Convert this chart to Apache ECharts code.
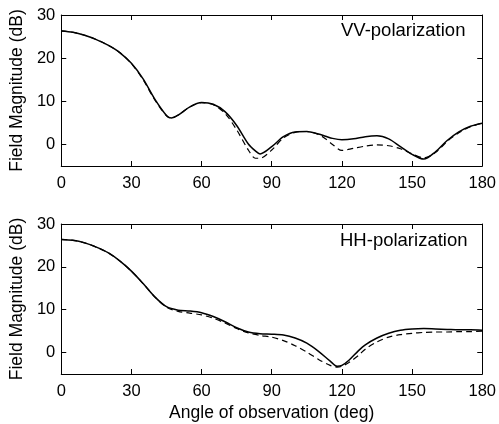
<!DOCTYPE html>
<html>
<head>
<meta charset="utf-8">
<script src="https://cdn.jsdelivr.net/npm/echarts@6/dist/echarts.min.js"></script>
<style>
  html, body { margin: 0; padding: 0; background: #fff; }
  #main { width: 499px; height: 424px; }
</style>
</head>
<body>
<div id="main"></div>
<script>
// VV panel (top)
var vvAngle = [0, 5, 10, 15, 20, 25, 30, 35, 40, 45, 47, 50, 55, 60, 65, 70, 75, 80, 83, 85,
    90, 95, 100, 105, 110, 113, 116, 120, 125, 130, 135, 140, 145, 150, 155, 160, 165, 170, 175, 180];
var vvSolid = [26.3, 26.0, 25.3, 24.3, 23.0, 21.3, 18.8, 15.2, 10.5, 6.7, 6.1, 6.8, 8.7, 9.7, 9.3, 7.6, 4.4, 0.1, -1.5, -2.2,
    -0.5, 1.8, 2.9, 3.0, 2.4, 1.9, 1.4, 1.1, 1.3, 1.8, 2.0, 1.3, -0.5, -2.3, -3.4, -1.7, 0.9, 2.9, 4.2, 4.9];
var vvDashed = [26.3, 26.0, 25.3, 24.3, 23.0, 21.3, 18.7, 15.0, 10.3, 6.6, 6.1, 6.8, 8.7, 9.7, 9.2, 7.2, 3.4, -1.3, -3.2, -3.2,
    -1.3, 1.5, 2.8, 3.0, 2.3, 1.3, 0.0, -1.4, -0.9, -0.4, -0.1, -0.3, -1.0, -2.2, -3.1, -1.9, 0.7, 2.7, 4.1, 4.9];

// HH panel (bottom)
var hhAngle = [0, 5, 10, 15, 20, 25, 30, 35, 40, 45, 50, 55, 60, 65, 70, 75, 80, 85, 90, 95,
    100, 105, 110, 115, 118, 120, 123, 127, 130, 135, 140, 145, 150, 155, 160, 165, 170, 175, 180];
var hhSolid = [26.4, 26.2, 25.6, 24.6, 23.3, 21.4, 19.0, 16.1, 13.0, 10.7, 9.9, 9.7, 9.3, 8.4, 7.2, 5.8, 4.8, 4.4, 4.3, 4.1,
    3.4, 2.2, 0.3, -2.0, -3.2, -3.0, -1.8, 0.4, 1.8, 3.4, 4.5, 5.2, 5.5, 5.6, 5.5, 5.4, 5.3, 5.3, 5.2];
var hhDashed = [26.4, 26.2, 25.6, 24.6, 23.3, 21.4, 19.0, 16.1, 13.0, 10.6, 9.6, 9.2, 8.8, 8.0, 6.9, 5.6, 4.6, 4.0, 3.6, 2.8,
    1.6, 0.1, -1.6, -3.0, -3.4, -3.2, -2.3, -0.7, 0.8, 2.5, 3.6, 4.2, 4.5, 4.7, 4.8, 4.8, 4.9, 4.9, 5.0];

var xTicks = [0, 30, 60, 90, 120, 150, 180];
var yTicks = [0, 10, 20, 30];
var panelNames = ['VV-polarization', 'HH-polarization'];

var FONT = 'Liberation Sans, Arial, Helvetica, sans-serif';

var pairs = function (xs, ys) {
    var out = [];
    for (var i = 0; i < xs.length; i++) {
        out.push([xs[i], ys[i]]);
    }
    return out;
};

var makeX = function (gridIndex, pos, withLabels, withName) {
    return {
        type: 'value',
        gridIndex: gridIndex,
        position: pos,
        min: 0,
        max: 180,
        interval: 30,
        name: withName ? 'Angle of observation (deg)' : '',
        nameLocation: 'middle',
        nameGap: 30,
        nameTextStyle: {color: '#000', fontSize: 17.5, fontFamily: FONT},
        axisLine: {show: true, onZero: false, lineStyle: {color: '#000', width: 1}},
        axisTick: {show: true, inside: true, length: 5, customValues: xTicks, lineStyle: {color: '#000'}},
        axisLabel: {show: withLabels, customValues: xTicks, color: '#000', fontSize: 16.5, fontFamily: FONT, margin: 9},
        splitLine: {show: false}
    };
};

var makeY = function (gridIndex, pos, withLabels) {
    return {
        type: 'value',
        gridIndex: gridIndex,
        position: pos,
        min: -5,
        max: 30,
        interval: 5,
        name: withLabels ? 'Field Magnitude (dB)' : '',
        nameLocation: 'middle',
        nameGap: 31,
        nameTextStyle: {color: '#000', fontSize: 17.5, fontFamily: FONT},
        axisLine: {show: true, onZero: false, lineStyle: {color: '#000', width: 1}},
        axisTick: {show: true, inside: true, length: 5, customValues: yTicks, lineStyle: {color: '#000'}},
        axisLabel: {show: withLabels, customValues: yTicks, color: '#000', fontSize: 16.5, fontFamily: FONT, margin: 6},
        splitLine: {show: false}
    };
};

var makeLine = function (idx, data, dashed) {
    return {
        type: 'line',
        xAxisIndex: idx * 2,
        yAxisIndex: idx * 2,
        data: data,
        smooth: 0.3,
        showSymbol: false,
        silent: true,
        lineStyle: {color: '#000', width: dashed ? 1.2 : 1.5, type: dashed ? [6, 4] : 'solid'}
    };
};

var titleStyle = {color: '#000', fontSize: 18.5, fontWeight: 'normal', fontFamily: FONT};

var option = {
    backgroundColor: '#fff',
    animation: false,
    textStyle: {fontFamily: FONT},
    title: [
        {text: panelNames[0], left: 341, top: 21, textStyle: titleStyle, padding: 0},
        {text: panelNames[1], left: 340, top: 231, textStyle: titleStyle, padding: 0}
    ],
    grid: [
        {left: 58, top: 15, width: 426, height: 151},
        {left: 58, top: 224, width: 426, height: 150}
    ],
    xAxis: [
        makeX(0, 'bottom', true, false),
        makeX(0, 'top', false, false),
        makeX(1, 'bottom', true, true),
        makeX(1, 'top', false, false)
    ],
    yAxis: [
        makeY(0, 'left', true),
        makeY(0, 'right', false),
        makeY(1, 'left', true),
        makeY(1, 'right', false)
    ],
    series: [
        makeLine(0, pairs(vvAngle, vvSolid), false),
        makeLine(0, pairs(vvAngle, vvDashed), true),
        makeLine(1, pairs(hhAngle, hhSolid), false),
        makeLine(1, pairs(hhAngle, hhDashed), true)
    ]
};

var chart = echarts.init(document.getElementById('main'));
chart.setOption(option);
</script>
</body>
</html>
